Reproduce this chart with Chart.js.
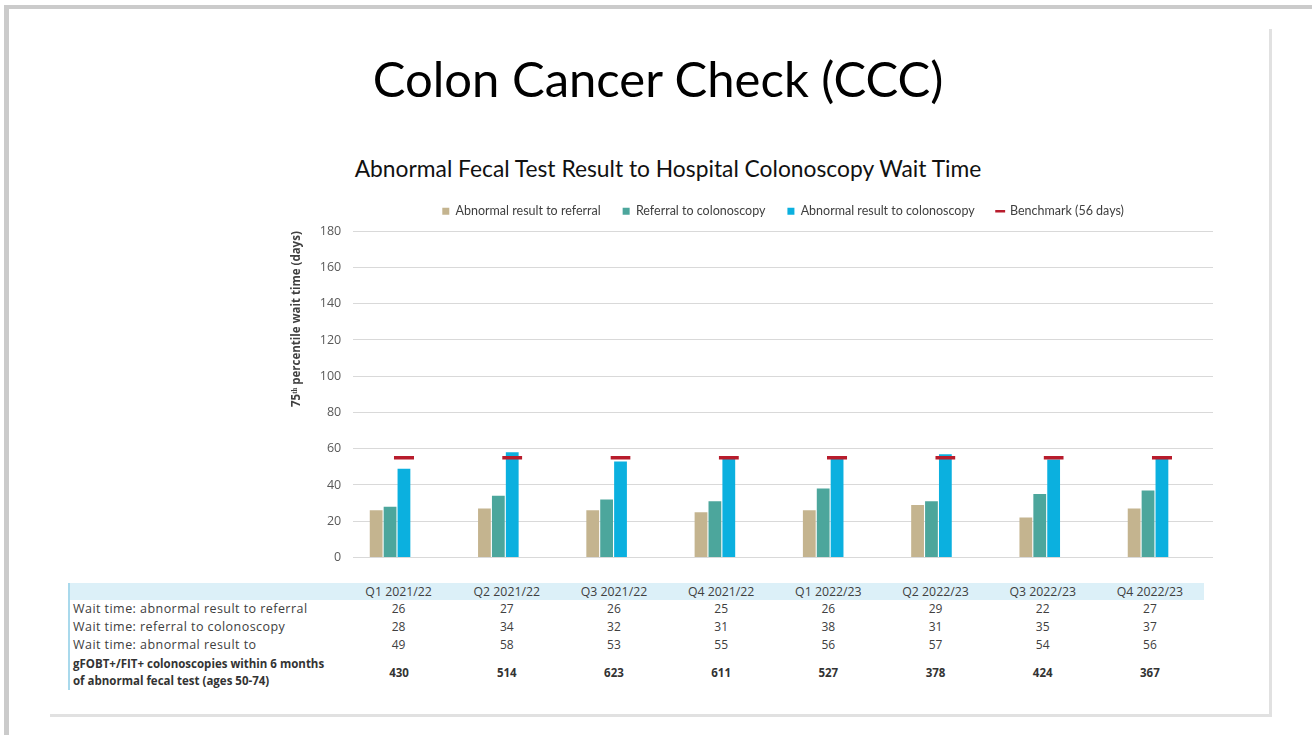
<!DOCTYPE html>
<html>
<head>
<meta charset="utf-8">
<script src="https://cdn.jsdelivr.net/npm/chart.js@4.4.1/dist/chart.umd.min.js"></script>
<style>
  html, body { margin: 0; padding: 0; background: #fff; width: 1312px; height: 735px; overflow: hidden; }
  body { position: relative; font-family: "Open Sans", sans-serif; }
  #outer { position: absolute; left: 4px; top: 5px; width: 1400px; height: 800px;
    border-left: 5px solid #cbcbcb; border-top: 4px solid #cbcbcb; }
  #slide { position: absolute; left: 50px; top: 29px; width: 1222px; height: 688px; box-sizing: border-box;
    border-right: 3px solid #e1e1e1; border-bottom: 3px solid #e1e1e1; }
  #title { position: absolute; left: 0; width: 1312px; top: 49px; margin: 0; text-align: center;
    font-family: Lato, sans-serif; font-weight: 400; font-size: 49px; color: #000; transform: translateX(2px); }
  #subtitle { position: absolute; left: 0; width: 1336px; top: 154px; text-align: center;
    font-family: Lato, sans-serif; font-size: 22.8px; color: #111; }
  #chartBox { position: absolute; left: 0; top: 183px; }
  #dataTable { position: absolute; left: 68px; top: 583px; border-collapse: collapse;
    border-left: 2px solid #a9d9ec; font-size: 12px; color: #404040; }
  #dataTable td { padding: 0; height: 18px; line-height: 18px; text-align: center; width: 107.2px; white-space: nowrap; }
  #dataTable td.lab { text-align: left; width: 272px; padding-left: 3px; font-size: 12.5px; letter-spacing: 0.45px; }
  #dataTable tr.head td { background: #dcf0f8; height: 17px; line-height: 17px; font-size: 12.3px; }
  #dataTable tr.bold td { font-weight: bold; font-size: 11.5px; letter-spacing: 0; line-height: 17px; height: 36px; color: #333; }
</style>
</head>
<body>
<div id="outer"></div>
<div id="slide"></div>
<h1 id="title">Colon Cancer Check (CCC)</h1>
<div id="subtitle">Abnormal Fecal Test Result to Hospital Colonoscopy Wait Time</div>
<div id="chartBox"><canvas id="chart" width="1312" height="394"></canvas></div>
<table id="dataTable"></table>

<script>
const quarters = ["Q1 2021/22", "Q2 2021/22", "Q3 2021/22", "Q4 2021/22", "Q1 2022/23", "Q2 2022/23", "Q3 2022/23", "Q4 2022/23"];
const resultToReferral = [26, 27, 26, 25, 26, 29, 22, 27];
const referralToColonoscopy = [28, 34, 32, 31, 38, 31, 35, 37];
const resultToColonoscopy = [49, 58, 53, 55, 56, 57, 54, 56];
const benchmark = [56, 56, 56, 56, 56, 56, 56, 56];
const colonoscopies = [430, 514, 623, 611, 527, 378, 424, 367];
const yTicks = [0, 20, 40, 60, 80, 100, 120, 140, 160, 180];

const tan = "#c4b48f";
const teal = "#4ca69c";
const blue = "#0bb0df";
const red = "#b81c2c";

// points on a linear x axis, one per quarter
const pts = arr => arr.map((v, i) => ({ x: i, y: v }));

// table under the chart
const rows = [
  { label: "", values: quarters, cls: "head" },
  { label: "Wait time: abnormal result to referral", values: resultToReferral },
  { label: "Wait time: referral to colonoscopy", values: referralToColonoscopy },
  { label: "Wait time: abnormal result to", values: resultToColonoscopy },
  { label: "gFOBT+/FIT+ colonoscopies within 6 months<br>of abnormal fecal test (ages 50-74)", values: colonoscopies, cls: "bold" }
];
const table = document.getElementById("dataTable");
table.innerHTML = rows.map(r => `
  <tr class="${r.cls || ""}">
    <td class="lab">${r.label}</td>
    ${r.values.map(v => `<td>${v}</td>`).join("")}
  </tr>`).join("");

const ctx = document.getElementById("chart").getContext("2d");
const chart = new Chart(ctx, {
  type: "bar",
  data: {
    datasets: [
      { label: "Abnormal result to referral", data: pts(resultToReferral), backgroundColor: tan, stack: "a", order: 0 },
      { label: "Referral to colonoscopy", data: pts(referralToColonoscopy), backgroundColor: teal, stack: "b", order: 1 },
      { label: "Abnormal result to colonoscopy", data: pts(resultToColonoscopy), backgroundColor: blue, stack: "c", order: 3 },
      {
        label: "Benchmark (56 days)", data: pts(benchmark), stack: "c", order: 2,
        backgroundColor: "rgba(0,0,0,0)", borderColor: red,
        borderWidth: { top: 3.5, left: 0, right: 0, bottom: 0 }, borderSkipped: false,
        barPercentage: 1.45
      }
    ]
  },
  options: {
    responsive: false,
    animation: false,
    devicePixelRatio: 1,
    categoryPercentage: 0.385,
    barPercentage: 0.92,
    layout: { padding: { left: 290, right: 99, top: 0, bottom: 8 } },
    scales: {
      x: {
        type: "linear",
        min: -0.34,
        max: 7.6,
        offset: false,
        display: false,
        grid: { offset: false },
        afterBuildTicks: s => { s.ticks = quarters.map((q, i) => ({ value: i })); }
      },
      y: {
        min: 0,
        max: 180,
        stacked: false,
        afterBuildTicks: s => { s.ticks = yTicks.map(v => ({ value: v })); },
        border: { display: false },
        grid: { color: "#d9d9d9", drawTicks: false },
        ticks: { color: "#595959", font: { family: "Open Sans", size: 12.5 }, padding: 12 },
        title: {
          display: true,
          text: "75ᵗʰ percentile wait time (days)",
          align: "end",
          color: "#404040",
          font: { family: "Open Sans", size: 11.5, weight: "bold" },
          padding: { top: 0, bottom: 4 }
        }
      }
    },
    plugins: {
      tooltip: { enabled: false },
      // thin gap between the legend and the plot
      subtitle: { display: true, text: "", weight: 500, padding: 0, font: { size: 3.1 } },
      legend: {
        position: "top",
        fullSize: false,
        labels: {
          usePointStyle: true,
          boxWidth: 7,
          boxHeight: 7,
          padding: 22,
          color: "#404040",
          font: { family: "Lato", size: 12.5 },
          sort: (a, b) => a.datasetIndex - b.datasetIndex,
          generateLabels(c) {
            const items = Chart.defaults.plugins.legend.labels.generateLabels(c);
            items.forEach(it => {
              if (it.datasetIndex === 3) {
                it.pointStyle = "line";
                it.fillStyle = red;
                it.strokeStyle = red;
                it.lineWidth = 2.5;
              } else {
                it.pointStyle = "rect";
                it.lineWidth = 0;
              }
            });
            return items;
          }
        }
      }
    }
  }
});
</script>
</body>
</html>
